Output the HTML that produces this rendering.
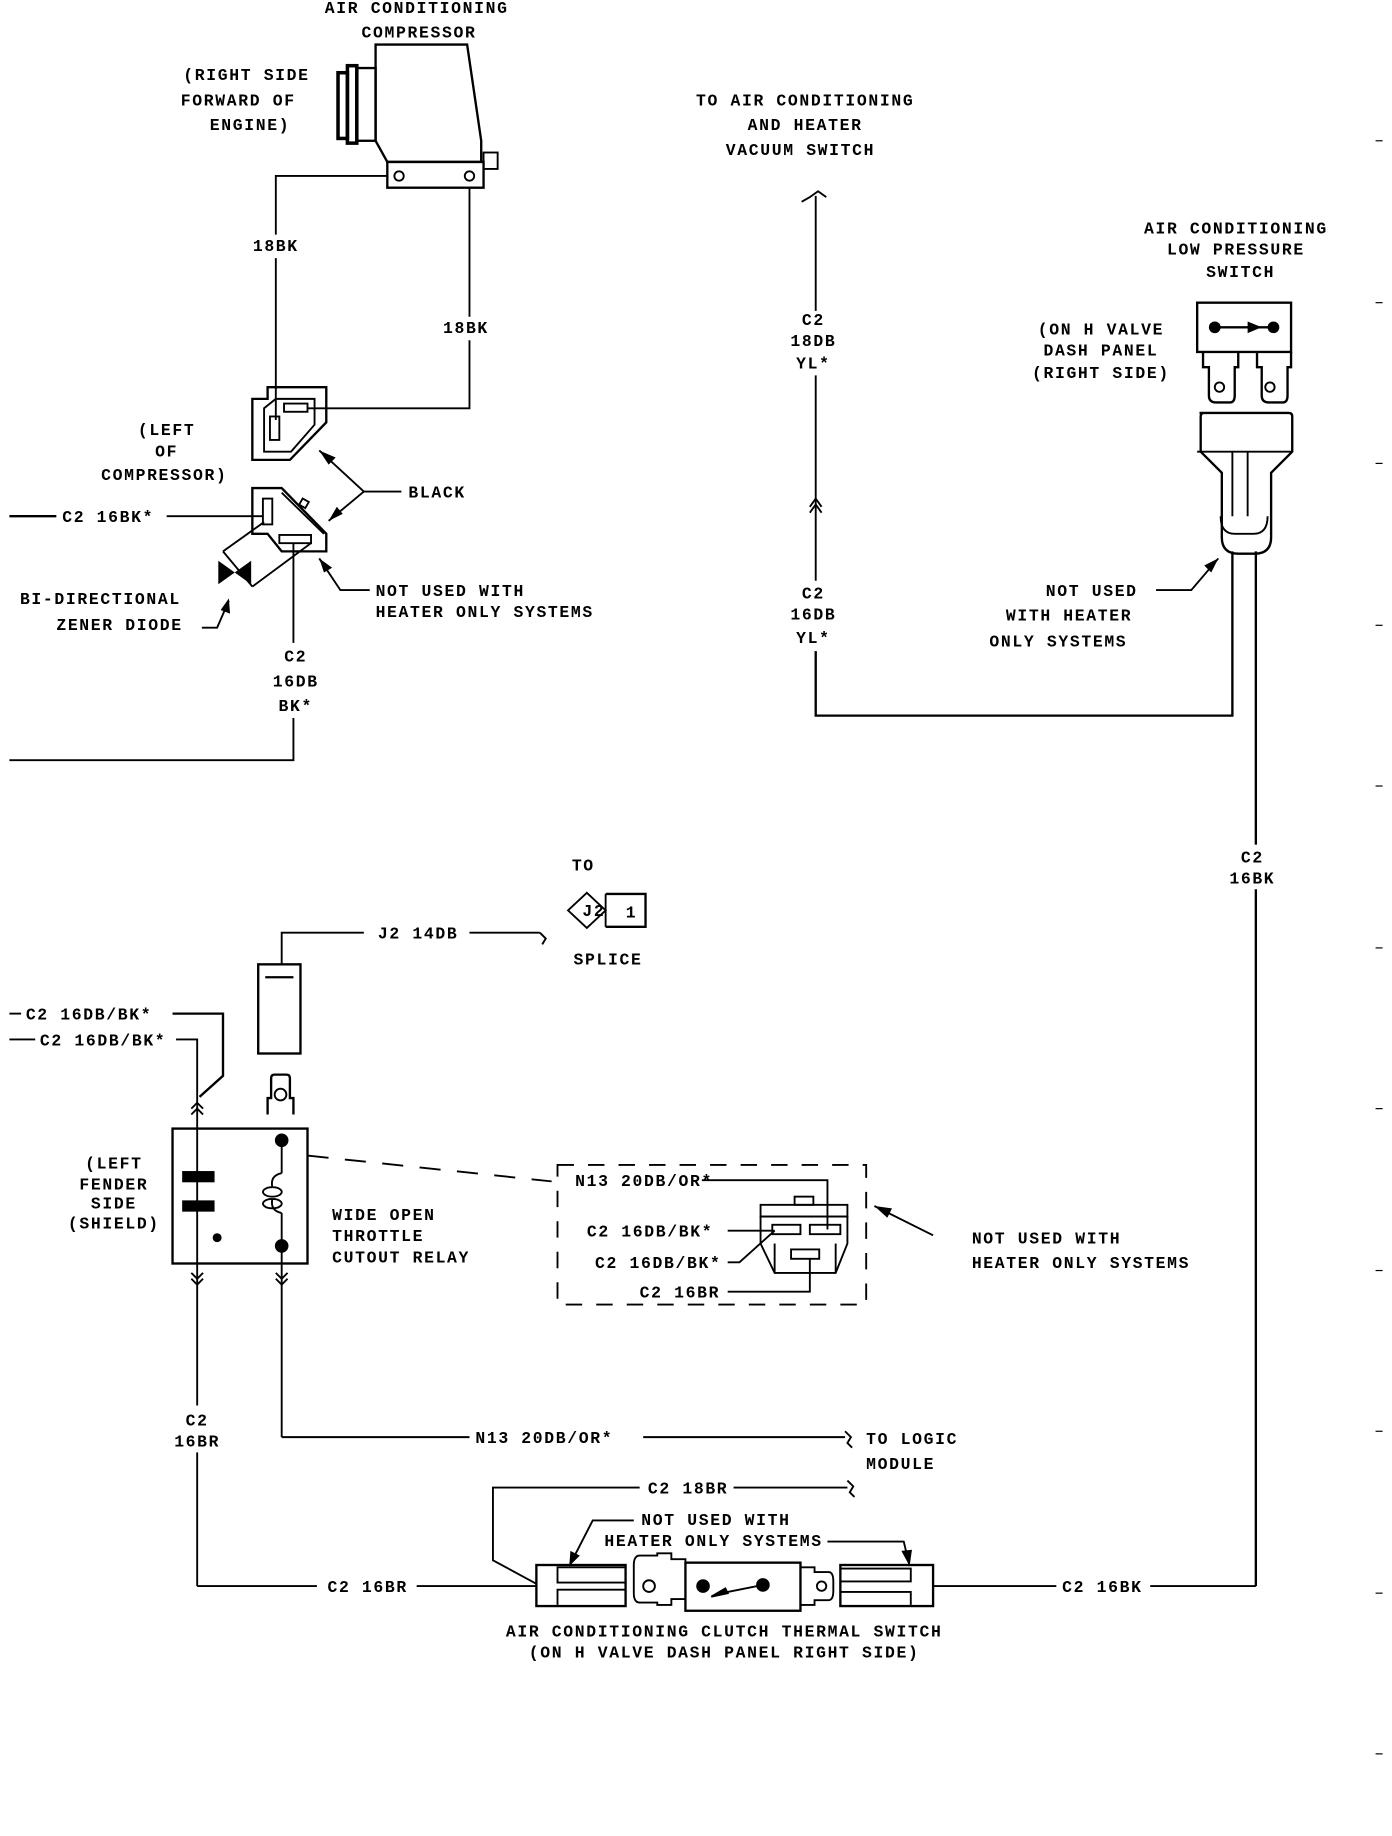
<!DOCTYPE html>
<html><head><meta charset="utf-8"><style>
html,body{margin:0;padding:0;background:#fff;}
svg{display:block;}
text{font-family:"Liberation Mono",monospace;font-size:14px;letter-spacing:1.4px;fill:#000;font-weight:bold;}
</style></head><body>
<svg width="1392" height="1836" viewBox="0 0 1186 1565" preserveAspectRatio="none" xmlns="http://www.w3.org/2000/svg">
<g fill="none" stroke="#000" stroke-width="1.6">
<!-- compressor -->
<rect x="288" y="62" width="8" height="56" stroke-width="3"/>
<rect x="296" y="56" width="8" height="66" stroke-width="3"/>
<rect x="304" y="58" width="16" height="62" stroke-width="2"/>
<polygon points="320,38 398,38 410,120 410,138 330,138 320,120" stroke-width="2"/>
<rect x="330" y="138" width="82" height="22" stroke-width="2"/>
<circle cx="340" cy="150" r="4"/><circle cx="400" cy="150" r="4"/>
<rect x="412" y="130" width="12" height="14"/>
<polyline points="330,150 235,150 235,200"/>
<line x1="235" y1="220" x2="235" y2="358"/>
<line x1="400" y1="160" x2="400" y2="270"/>
<polyline points="400,290 400,348 262,348"/>
<!-- upper connector -->
<polygon points="215,340 228,340 228,330 278,330 278,360 247,392 215,392" stroke-width="2"/>
<polygon points="225,348 225,385 248,385 268,362 268,340 235,340" />
<rect x="230" y="355" width="8" height="20"/>
<rect x="242" y="344" width="20" height="7"/>
<!-- lower connector -->
<polygon points="215,416 240,416 278,455 278,470 240,470 228,455 215,455" stroke-width="2"/>
<rect x="224" y="425" width="8" height="22"/>
<rect x="238" y="456" width="27" height="7"/>
<line x1="240" y1="420" x2="276" y2="455"/>
<rect x="256" y="426" width="6" height="6" transform="rotate(30 259 429)"/>
<line x1="8" y1="440" x2="48" y2="440" stroke-width="2"/>
<line x1="142" y1="440" x2="224" y2="440"/>
<line x1="225" y1="445" x2="190" y2="470"/><line x1="190" y1="470" x2="215" y2="500"/>
<line x1="215" y1="500" x2="265" y2="463"/>
<line x1="250" y1="463" x2="250" y2="548"/>
<polyline points="250,612 250,648 8,648"/>
<!-- BLACK leaders -->
<polyline points="342,419 310,419 272,384"/>
<line x1="310" y1="419" x2="280" y2="444"/>
<polyline points="315,503 290,503 272,476"/>
<polyline points="172,535 185,535 195,512"/>
<!-- vacuum switch wire -->
<polyline points="683,172 690,168 697,163 704,168"/>
<line x1="695" y1="167" x2="695" y2="265"/>
<line x1="695" y1="320" x2="695" y2="495"/>
<polyline points="690,432 695,425 700,432"/><polyline points="690,437 695,430 700,437"/>
<polyline points="695,555 695,610 1050,610 1050,470" stroke-width="2"/>
<line x1="1070" y1="470" x2="1070" y2="720" stroke-width="2"/>
<line x1="1070" y1="758" x2="1070" y2="1352" stroke-width="2"/>
<polyline points="1070,1352 980,1352"/>
<!-- low pressure switch -->
<rect x="1020" y="258" width="80" height="42" stroke-width="2"/>
<path d="M1025,300 v13 h5 v24 q0,6 6,6 h12 q4,0 4,-6 v-24 h3 v-13 M1071,300 v13 h4 v24 q0,6 6,6 h12 q4,0 4,-6 v-24 h3 v-13" stroke-width="2"/>
<circle cx="1039" cy="330" r="4"/><circle cx="1082" cy="330" r="4"/>
<path d="M1022,352 h76 q3,0 3,3 v30 l-18,18 v55 q0,14 -14,14 h-14 q-14,0 -14,-14 v-55 l-18,-18 v-30 q0,-3 3,-3 z" stroke-width="2"/>
<line x1="1020" y1="385" x2="1100" y2="385"/>
<line x1="1050" y1="385" x2="1050" y2="440"/><line x1="1063" y1="385" x2="1063" y2="440"/>
<path d="M1040,440 q0,15 12,15 h16 q12,0 12,-15"/>
<polyline points="985,503 1015,503 1038,476"/>
<!-- J2 splice -->
<polyline points="240,822 240,795 310,795"/>
<line x1="400" y1="795" x2="460" y2="795"/>
<path d="M460,795 l5,5 l-3,5"/>
<polygon points="500,761 516,776 500,791 484,776"/>
<polyline points="516,762 550,762 550,790 516,790" stroke-width="2"/>
<line x1="516" y1="762" x2="516" y2="790"/>
<rect x="220" y="822" width="36" height="76" stroke-width="2"/>
<line x1="226" y1="833" x2="250" y2="833" stroke-width="2"/>
<path d="M228,950 v-14 h3 v-17 q0,-3 3,-3 h10 q3,0 3,3 v17 h3 v14" stroke-width="2"/>
<circle cx="239" cy="933" r="5"/>
<!-- relay -->
<rect x="147" y="962" width="115" height="115" stroke-width="2"/>
<rect x="156" y="999" width="26" height="8" fill="#000"/>
<rect x="156" y="1024" width="26" height="8" fill="#000"/>
<circle cx="185" cy="1055" r="3" fill="#000"/>
<circle cx="240" cy="972" r="5" fill="#000"/><circle cx="240" cy="1062" r="5" fill="#000"/>
<line x1="240" y1="972" x2="240" y2="1000"/>
<path d="M240,1000 q-10,2 -8,12 M232,1012 a8,4 0 1 0 0.1,0 M232,1022 a8,4 0 1 0 0.1,0 M232,1022 q-2,10 8,12"/>
<line x1="240" y1="1034" x2="240" y2="1062"/>
<line x1="168" y1="942" x2="168" y2="1198"/>
<line x1="168" y1="1238" x2="168" y2="1352"/>
<line x1="240" y1="1062" x2="240" y2="1225"/>
<polyline points="163,945 168,940 173,945"/><polyline points="163,950 168,945 173,950"/>
<polyline points="163,1085 168,1090 173,1085"/><polyline points="163,1090 168,1095 173,1090"/>
<polyline points="235,1085 240,1090 245,1085"/><polyline points="235,1090 240,1095 245,1090"/>
<line x1="8" y1="864" x2="18" y2="864"/>
<polyline points="147,864 190,864 190,917 170,935" stroke-width="2"/>
<line x1="8" y1="886" x2="30" y2="886"/>
<polyline points="150,886 168,886 168,942"/>
<line x1="262" y1="985" x2="470" y2="1007" stroke-dasharray="18,14"/>
<rect x="475" y="993" width="263" height="119" stroke-dasharray="14,12"/>
<!-- N13 connector -->
<rect x="677" y="1020" width="16" height="7"/>
<rect x="648" y="1027" width="74" height="10"/>
<polygon points="648,1037 722,1037 722,1060 712,1085 660,1085 648,1060"/>
<line x1="660" y1="1060" x2="660" y2="1085"/><line x1="712" y1="1060" x2="712" y2="1085"/>
<rect x="658" y="1044" width="24" height="8"/><rect x="690" y="1044" width="26" height="8"/>
<rect x="674" y="1065" width="24" height="8"/>
<polyline points="598,1006 705,1006 705,1048"/>
<line x1="620" y1="1049" x2="660" y2="1049"/>
<polyline points="620,1076 630,1076 660,1049"/>
<polyline points="620,1101 690,1101 690,1073"/>
<polyline points="795,1053 745,1028"/>
<polyline points="548,1225 720,1225"/>
<path d="M720,1220 l5,5 l-3,5 l4,4"/>
<polyline points="400,1225 240,1225"/>
<polyline points="168,1352 270,1352"/>
<line x1="355" y1="1352" x2="457" y2="1352"/>
<polyline points="545,1268 420,1268 420,1330 457,1350"/>
<line x1="625" y1="1268" x2="722" y2="1268"/>
<path d="M722,1262 l5,5 l-3,5 l4,4"/>
<!-- thermal switch -->
<rect x="457" y="1334" width="76" height="35" stroke-width="2"/>
<polyline points="533,1336 475,1336 475,1349 533,1349"/>
<polyline points="533,1355 475,1355 475,1368"/>
<path d="M540,1346 v12 q0,8 5,8 h15 v2 h12 v-5 h12 v-34 h-12 v-5 h-12 v2 h-15 q-5,0 -5,8 z" />
<circle cx="553" cy="1352" r="5"/>
<rect x="584" y="1332" width="98" height="41" stroke-width="2"/>
<circle cx="599" cy="1352" r="5" fill="#000"/><circle cx="650" cy="1351" r="5" fill="#000"/>
<line x1="610" y1="1359" x2="650" y2="1351"/>
<polygon points="606,1361 618,1354 620,1358" fill="#000"/>
<path d="M682,1336 h12 v4 h12 q4,0 4,8 v8 q0,8 -4,8 h-12 v4 h-12"/>
<circle cx="700" cy="1352" r="4"/>
<rect x="716" y="1334" width="79" height="35" stroke-width="2"/>
<polyline points="716,1337 776,1337 776,1348 716,1348"/>
<polyline points="716,1357 776,1357 776,1368"/>
<polyline points="540,1296 505,1296 485,1335"/>
<polyline points="705,1314 770,1314 775,1335"/>
<line x1="795" y1="1352" x2="900" y2="1352"/>
</g>
<g fill="#000">
<polygon points="272,384 286,390 280,396"/>
<polygon points="280,444 287,432 292,438"/>
<polygon points="272,476 276,488 283,484"/>
<polygon points="195,510 188,520 196,523"/>
<polygon points="1038,476 1026,482 1032,488"/>
<polygon points="745,1028 760,1030 756,1038"/>
<polygon points="485,1335 486,1322 494,1326"/>
<polygon points="775,1335 768,1322 777,1321"/>
<polygon points="186,478 200,488 186,498"/><polygon points="214,478 200,488 214,498"/>
<circle cx="1035" cy="279" r="5"/><circle cx="1085" cy="279" r="5"/>
<rect x="1035" y="278" width="50" height="2"/><polygon points="1063,274 1075,279 1063,284"/>
</g>
<g text-anchor="middle">
<text x="355" y="11">AIR CONDITIONING</text>
<text x="357" y="32">COMPRESSOR</text>
<text x="210" y="68">(RIGHT SIDE</text>
<text x="203" y="90">FORWARD OF</text>
<text x="213" y="111">ENGINE)</text>
<text x="235" y="214">18BK</text>
<text x="397" y="284">18BK</text>
<text x="142" y="371">(LEFT</text>
<text x="142" y="389">OF</text>
<text x="140" y="409">COMPRESSOR)</text>
<text x="252" y="564">C2</text>
<text x="252" y="585">16DB</text>
<text x="252" y="606">BK*</text>
<text x="686" y="90">TO AIR CONDITIONING</text>
<text x="686" y="111">AND HEATER</text>
<text x="682" y="132">VACUUM SWITCH</text>
<text x="693" y="277">C2</text>
<text x="693" y="295">18DB</text>
<text x="693" y="314">YL*</text>
<text x="693" y="510">C2</text>
<text x="693" y="528">16DB</text>
<text x="693" y="548">YL*</text>
<text x="1053" y="199">AIR CONDITIONING</text>
<text x="1053" y="217">LOW PRESSURE</text>
<text x="1057" y="236">SWITCH</text>
<text x="938" y="285">(ON H VALVE</text>
<text x="938" y="303">DASH PANEL</text>
<text x="938" y="322">(RIGHT SIDE)</text>
<text x="1067" y="735">C2</text>
<text x="1067" y="753">16BK</text>
<text x="497" y="742">TO</text>
<text x="506" y="781" font-size="12">J2</text>
<text x="538" y="782" font-size="12">1</text>
<text x="518" y="822">SPLICE</text>
<text x="97" y="996">(LEFT</text>
<text x="97" y="1014">FENDER</text>
<text x="97" y="1030">SIDE</text>
<text x="97" y="1047">(SHIELD)</text>
<text x="168" y="1215">C2</text>
<text x="168" y="1233">16BR</text>
<text x="617" y="1395">AIR CONDITIONING CLUTCH THERMAL SWITCH</text>
<text x="617" y="1413">(ON H VALVE DASH PANEL RIGHT SIDE)</text>
<text x="610" y="1300">NOT USED WITH</text>
<text x="608" y="1318">HEATER ONLY SYSTEMS</text>
</g>
<g>
<text x="348" y="424">BLACK</text>
<text x="53" y="445">C2 16BK*</text>
<text x="17" y="515">BI-DIRECTIONAL</text>
<text x="48" y="537">ZENER DIODE</text>
<text x="320" y="508">NOT USED WITH</text>
<text x="320" y="526">HEATER ONLY SYSTEMS</text>
<text x="891" y="508">NOT USED</text>
<text x="857" y="529">WITH HEATER</text>
<text x="843" y="551">ONLY SYSTEMS</text>
<text x="322" y="800">J2 14DB</text>
<text x="22" y="869">C2 16DB/BK*</text>
<text x="34" y="891">C2 16DB/BK*</text>
<text x="283" y="1040">WIDE OPEN</text>
<text x="283" y="1058">THROTTLE</text>
<text x="283" y="1076">CUTOUT RELAY</text>
<text x="490" y="1011">N13 20DB/OR*</text>
<text x="500" y="1054">C2 16DB/BK*</text>
<text x="507" y="1081">C2 16DB/BK*</text>
<text x="545" y="1106">C2 16BR</text>
<text x="828" y="1060">NOT USED WITH</text>
<text x="828" y="1081">HEATER ONLY SYSTEMS</text>
<text x="405" y="1230">N13 20DB/OR*</text>
<text x="738" y="1231">TO LOGIC</text>
<text x="738" y="1252">MODULE</text>
<text x="552" y="1273">C2 18BR</text>
<text x="279" y="1357">C2 16BR</text>
<text x="905" y="1357">C2 16BK</text>
</g>
<g stroke="#000" stroke-width="1">
<line x1="1172" y1="120" x2="1178" y2="120"/><line x1="1172" y1="258" x2="1178" y2="258"/>
<line x1="1172" y1="395" x2="1178" y2="395"/><line x1="1172" y1="533" x2="1178" y2="533"/>
<line x1="1172" y1="670" x2="1178" y2="670"/><line x1="1172" y1="808" x2="1178" y2="808"/>
<line x1="1172" y1="945" x2="1178" y2="945"/><line x1="1172" y1="1083" x2="1178" y2="1083"/>
<line x1="1172" y1="1220" x2="1178" y2="1220"/><line x1="1172" y1="1358" x2="1178" y2="1358"/>
<line x1="1172" y1="1495" x2="1178" y2="1495"/>
</g>
</svg>
</body></html>
